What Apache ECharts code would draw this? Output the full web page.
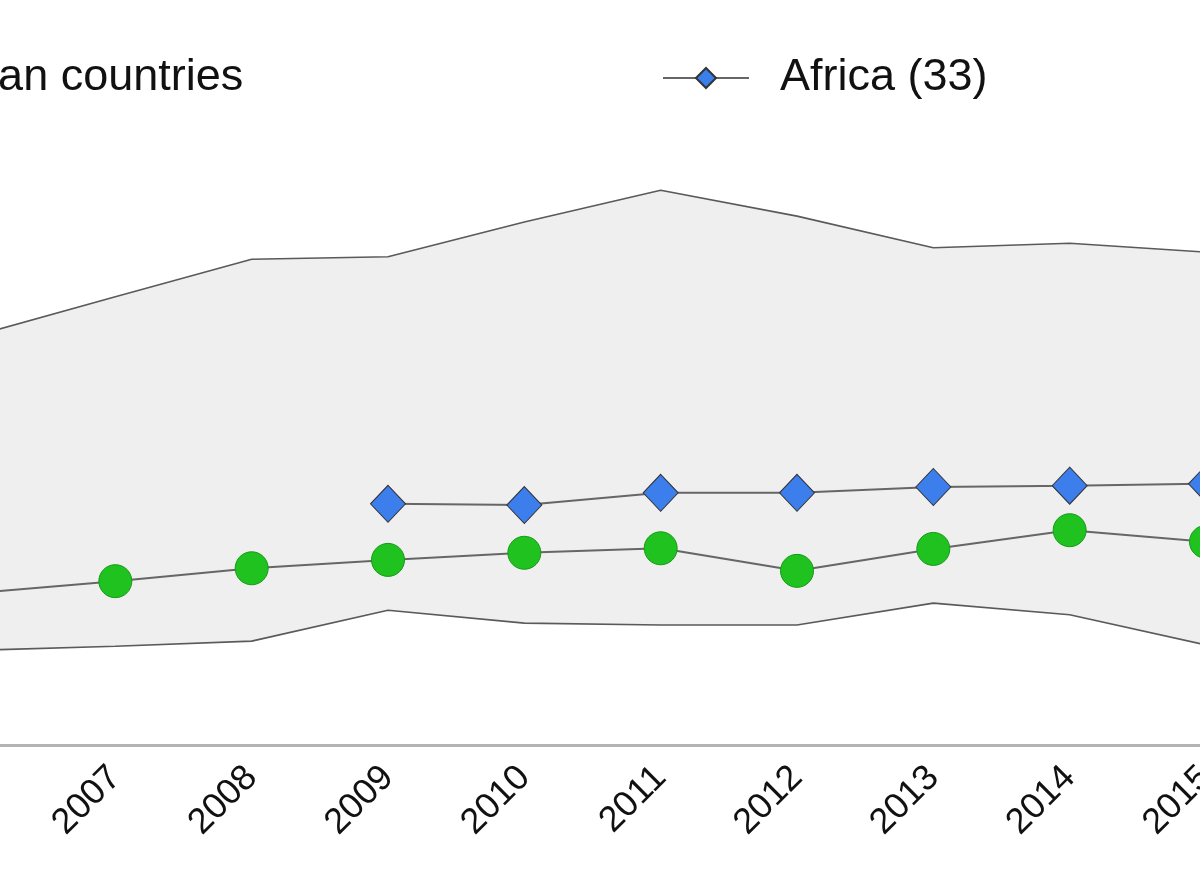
<!DOCTYPE html>
<html>
<head>
<meta charset="utf-8">
<script src="https://cdn.jsdelivr.net/npm/echarts@6/dist/echarts.min.js"></script>
<style>
html,body{margin:0;padding:0;background:#fff;}
#chart{width:1200px;height:888px;}
</style>
</head>
<body>
<div id="chart"></div>
<script>
const years = ['2006','2007','2008','2009','2010','2011','2012','2013','2014','2015'];
const bandUpper = [63.6, 69.5, 75.3, 75.7, 81.1, 86.0, 82.0, 77.1, 77.8, 76.4];
const bandLower = [14.7, 15.3, 16.1, 20.9, 18.9, 18.6, 18.6, 22.0, 20.2, 15.5];
const europeValues = [23.6, 25.4, 27.4, 28.7, 29.8, 30.5, 27.0, 30.4, 33.3, 31.5];
const africaValues = [null, null, null, 37.4, 37.2, 39.1, 39.1, 40.0, 40.2, 40.5];
const europeName = 'European countries';
const africaName = 'Africa (33)';

const bandRange = bandUpper.map((v, i) => +(v - bandLower[i]).toFixed(2));

const chart = echarts.init(document.getElementById('chart'), null, {renderer: 'canvas'});
const font = '"Liberation Sans", Arial, sans-serif';
const lineGray = '#5a5a5a';

chart.setOption({
  animation: false,
  backgroundColor: '#ffffff',
  grid: {left: -21, right: -6, top: 100, bottom: 143, containLabel: false, outerBoundsMode: 'none'},
  legend: [
    {
      data: [europeName], left: -266, top: 48, itemWidth: 86, itemHeight: 25, itemGap: 40,
      textStyle: {fontFamily: font, fontSize: 45, color: '#111', lineHeight: 50, padding: [0,0,0,22]}
    },
    {
      data: [africaName], left: 657, top: 48, itemWidth: 86, itemHeight: 25,
      textStyle: {fontFamily: font, fontSize: 45, color: '#111', lineHeight: 50, padding: [0,0,0,26]}
    }
  ],
  xAxis: {
    type: 'category', data: years, boundaryGap: false,
    axisLine: {lineStyle: {color: '#b4b4b4', width: 3}},
    axisTick: {show: false},
    axisLabel: {rotate: 45, fontFamily: font, fontSize: 36, color: '#111', margin: 27, interval: 0},
    splitLine: {show: false}
  },
  yAxis: {
    type: 'value', min: 0, max: 100, show: false, splitLine: {show: false}
  },
  series: [
    {name: 'bandBase', type: 'line', data: bandLower, stack: 'band', symbol: 'none', silent: true,
     lineStyle: {opacity: 0}, z: 1},
    {name: 'bandRange', type: 'line', data: bandRange, stack: 'band', symbol: 'none', silent: true,
     lineStyle: {opacity: 0}, areaStyle: {color: '#efefef', opacity: 1}, z: 1},
    {name: 'bandUpper', type: 'line', data: bandUpper, symbol: 'none', silent: true,
     lineStyle: {color: lineGray, width: 1.6}, z: 2},
    {name: 'bandLower', type: 'line', data: bandLower, symbol: 'none', silent: true,
     lineStyle: {color: lineGray, width: 1.6}, z: 2},
    {name: europeName, type: 'line', data: europeValues, symbol: 'circle', symbolSize: 33,
     itemStyle: {color: '#1fc21f', borderColor: '#169a16', borderWidth: 1},
     lineStyle: {color: '#666', width: 2}, z: 3},
    {name: africaName, type: 'line', data: africaValues, symbol: 'diamond', symbolSize: [35, 37],
     connectNulls: false,
     itemStyle: {color: '#3b7eec', borderColor: '#333', borderWidth: 1},
     lineStyle: {color: '#666', width: 2}, z: 4}
  ]
});
</script>
</body>
</html>
